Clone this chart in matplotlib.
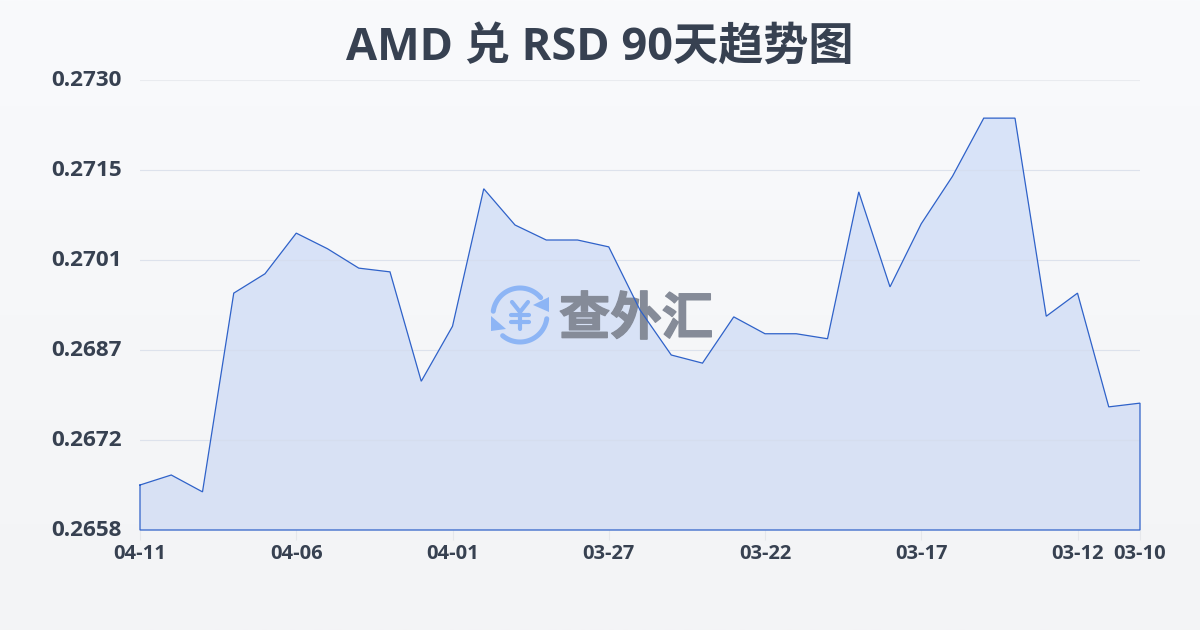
import numpy as np
import matplotlib
matplotlib.use("Agg")
import matplotlib.pyplot as plt
import matplotlib.patheffects as pe
from matplotlib.colors import LinearSegmentedColormap
from matplotlib.patches import Polygon
from matplotlib.transforms import Affine2D

plt.rcParams['font.family'] = ['Open Sans', 'Noto Sans CJK SC', 'DejaVu Sans']

title = "AMD 兑 RSD 90天趋势图"
rates = [0.26652, 0.26668, 0.26641, 0.26959, 0.26990, 0.27055, 0.27030, 0.26999,
         0.26993, 0.26818, 0.26906, 0.27126, 0.27068, 0.27044, 0.27044, 0.27033,
         0.26932, 0.26860, 0.26847, 0.26921, 0.26894, 0.26894, 0.26886, 0.27121,
         0.26969, 0.27070, 0.27146, 0.27239, 0.27239, 0.26922, 0.26959, 0.26777,
         0.26783]
x_ticks = [0, 5, 10, 15, 20, 25, 30, 32]
x_labels = ["04-11", "04-06", "04-01", "03-27", "03-22", "03-17", "03-12", "03-10"]
y_ticks = [0.2658, 0.26724, 0.26868, 0.27012, 0.27156, 0.2730]
y_labels = ["0.2658", "0.2672", "0.2687", "0.2701", "0.2715", "0.2730"]

text_col = "#374151"
line_col = "#2f62c9"

fig = plt.figure(figsize=(12, 6.3), dpi=100)

# page background, slight vertical gradient
bg = fig.add_axes([0, 0, 1, 1], zorder=0)
bg.imshow(np.linspace(0, 1, 256).reshape(-1, 1), aspect="auto", extent=[0, 1, 0, 1],
          cmap=LinearSegmentedColormap.from_list("bg", ["#f9fafc", "#f3f4f6"]))
bg.axis("off")

ax = fig.add_axes([140 / 1200, 100 / 630, 1000 / 1200, 450 / 630], zorder=1)
ax.patch.set_alpha(0)
x = np.arange(len(rates))

ax.set_xlim(0, 32)
ax.set_ylim(0.2658, 0.2730)
ax.set_xticks(x_ticks, x_labels)
ax.set_yticks(y_ticks, y_labels)
ax.grid(axis="y", color="#e9ebef", lw=0.8)
ax.set_axisbelow(True)
for s in ax.spines.values():
    s.set_visible(False)
ax.tick_params(axis="x", length=7, width=0.8, color="#e5e7eb", pad=3, labelsize=14.5, labelcolor=text_col)
ax.tick_params(axis="y", length=0, pad=13, labelsize=16.2, labelcolor=text_col)
for t in ax.get_xticklabels() + ax.get_yticklabels():
    t.set_fontweight("bold")
for t in ax.get_yticklabels():
    t.set_transform(t.get_transform() + Affine2D().translate(0, 2))

# area with vertical gradient
grad = ax.imshow(np.linspace(0, 1, 256).reshape(-1, 1), aspect="auto",
                 extent=[0, 32, 0.2658, 0.2730], zorder=1.5,
                 cmap=LinearSegmentedColormap.from_list("fill", ["#d8e4f9", "#d9e1f4"]))
area = ax.fill_between(x, rates, 0.2658, color="none")
grad.set_clip_path(area.get_paths()[0], transform=ax.transData)
# grid shows faintly through the fill
for v in y_ticks[1:-1]:
    ax.axhline(v, color="#d3daea", lw=0.8, alpha=0.5, zorder=1.6)

# watermark in image pixels
px = Affine2D().scale(1, -1).translate(0, 630)
icon_col = "#8db5f5"
t1 = np.radians(np.linspace(188, 320, 40))
t2 = np.radians(np.linspace(8, 130, 40))
ax.plot(520 + 27 * np.cos(t1), 315 + 27 * np.sin(t1), color=icon_col, lw=3.6,
        solid_capstyle="round", transform=px, zorder=2, clip_on=False)
ax.plot(520 + 27 * np.cos(t2), 315 + 27 * np.sin(t2), color=icon_col, lw=3.6,
        solid_capstyle="round", transform=px, zorder=2, clip_on=False)
ax.add_patch(Polygon([(549, 297), (549, 312), (533, 305)], closed=True, color=icon_col, lw=0,
                     transform=px, zorder=2, clip_on=False))
ax.add_patch(Polygon([(491, 316), (506, 329), (491, 331)], closed=True, color=icon_col, lw=0,
                     transform=px, zorder=2, clip_on=False))
for xs, ys in [((512, 520, 528), (302, 312, 302)), ((511, 529), (315, 315)),
               ((511, 529), (322, 322)), ((520, 520), (312, 329))]:
    ax.plot(xs, ys, color=icon_col, lw=3, solid_capstyle="round", transform=px, zorder=2, clip_on=False)
logo = ax.text(636, 319, "查外汇", transform=px, ha="center", va="center", fontsize=37, fontweight="bold",
               family=['Noto Sans CJK SC'], color="#858b98", zorder=2, clip_on=False)
logo.set_path_effects([pe.withStroke(linewidth=1, foreground="#858b98")])

ax.plot(list(x) + [32, 0, 0], rates + [0.2658, 0.2658, rates[0]], color=line_col, lw=0.9,
        zorder=3, clip_on=False, solid_joinstyle="miter")

fig.text(600 / 1200, 1 - 48 / 630, title, ha="center", va="center", fontsize=32.5, fontweight="bold", color=text_col)

fig.savefig("out.png", dpi=100)
